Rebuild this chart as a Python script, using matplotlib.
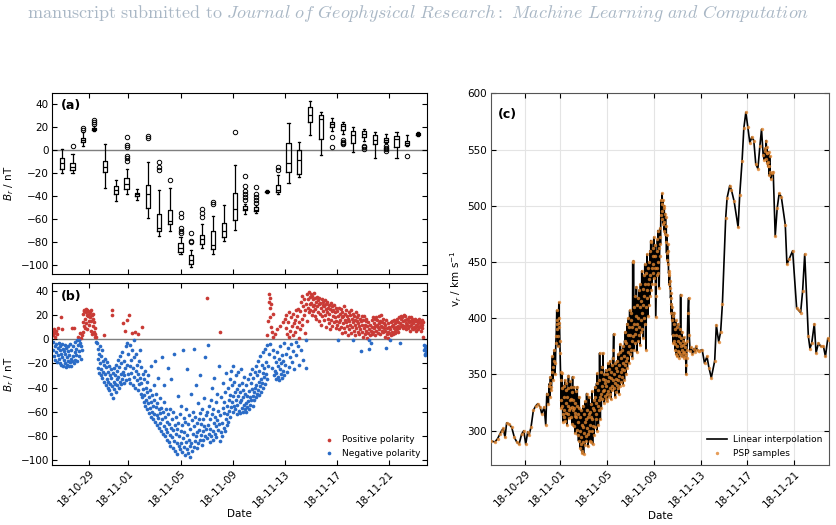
import numpy as np
import matplotlib
matplotlib.use("Agg")
import matplotlib.pyplot as plt
import matplotlib.dates as mdates
from datetime import datetime

# ---------------- data (times are days after 2018-10-26 00:00) ----------------
start = datetime(2018, 10, 26)

# (a) box statistics of B_r per bin
box_day = [0.88, 1.71, 2.54, 3.37, 4.20, 5.03, 5.86, 6.69, 7.51, 8.34, 9.17, 10.00,
           10.83, 11.66, 12.49, 13.32, 14.15, 14.98, 15.80, 16.63, 17.46, 18.29, 19.12,
           19.95, 20.78, 21.61, 22.44, 23.27, 24.09, 24.92, 25.75, 26.58, 27.41, 28.24]
box_q1 = [-16.4, -17.3, 7.0, 18.0, -19.3, -37.8, -34.0, -39.5, -50.7, -70.0, -64.1, -89.0,
          -99.3, -81.7, -86.1, -75.9, -60.6, -52.4, -52.5, -36.3, -36.3, -18.7, -21.1,
          24.6, 10.0, 20.2, 17.3, 6.7, 11.4, 5.3, 7.6, 3.2, 4.7, 13.4]
box_med = [-10.8, -14.4, 9.1, 18.8, -14.6, -34.3, -29.6, -38.4, -38.4, -68.0, -61.8, -84.7,
           -95.2, -77.3, -82.3, -70.0, -51.0, -51.0, -51.6, -35.7, -34.3, -10.8, -8.5,
           31.0, 27.2, 22.6, 21.4, 12.9, 14.1, 9.1, 9.1, 9.7, 6.7, 14.1]
box_q3 = [-6.4, -11.4, 11.1, 19.5, -9.1, -31.3, -24.0, -37.2, -29.9, -55.4, -51.6, -81.1,
          -91.4, -73.5, -70.6, -63.3, -36.9, -48.9, -49.5, -35.3, -30.5, 6.7, 0.0,
          37.8, 31.0, 24.3, 22.8, 16.4, 16.4, 12.9, 10.5, 12.0, 8.5, 14.8]
box_lo = [-20.2, -19.9, 3.8, 17.0, -32.5, -43.9, -38.4, -43.0, -59.2, -74.4, -70.0, -90.5,
          -101.6, -85.2, -89.9, -79.4, -69.4, -55.9, -54.8, -36.8, -38.4, -28.4, -23.7,
          12.9, -4.4, 17.0, 14.0, -1.8, 8.0, -6.4, 6.2, -6.4, 3.8, 12.3]
box_hi = [0.9, -3.2, 15.8, 21.0, 5.3, -25.5, -16.7, -34.0, -10.0, -34.9, -32.5, -75.9,
          -87.0, -64.1, -56.8, -48.0, -12.9, -46.6, -47.5, -34.8, -21.7, 23.7, 7.0,
          43.0, 33.4, 28.1, 24.9, 19.9, 18.5, 15.5, 14.4, 15.5, 12.9, 15.5]
box_fliers = [[], [3.8], [17.9, 19.3], [23.3, 24.8, 26.5], [], [],
              [11.4, 4.7, 2.9, -4.7, -6.4, -9.1], [], [12.0, 10.5],
              [-10.3, -14.9, -17.3], [-26.0], [-54.8, -57.7, -67.7, -70.0, -72.0],
              [-71.8, -78.8, -80.3], [-51.0, -54.5, -58.3], [-45.1, -47.2], [], [15.8],
              [-22.3, -31.0, -35.7, -38.4, -40.7, -43.0], [-31.6, -37.8, -40.7, -43.6, -46.0],
              [], [-14.9, -17.3], [], [], [], [], [11.7, 2.6], [9.1, 7.6, 6.2, 5.3], [],
              [4.1, 2.6, 1.2], [], [3.8, 2.3, 0.9, -0.6], [], [-4.7], []]

# (b) B_r samples (day, nT)
br_oct26_28 = [
    (0.19, 6), (0.20, -9), (0.22, 3), (0.25, -2), (0.27, 8), (0.30, -14), (0.32, 5), (0.35, -6),
    (0.38, 2), (0.40, -17), (0.43, 7), (0.45, -4), (0.48, -11), (0.50, 4), (0.53, -19), (0.56, -7),
    (0.60, -13), (0.62, 9), (0.65, -3), (0.68, -16), (0.72, -9), (0.75, -20), (0.78, -6), (0.80, 18),
    (0.82, -12), (0.85, -21), (0.88, -4), (0.90, 8), (0.93, -15), (0.96, -8), (1.00, -22), (1.03, -10),
    (1.06, -17), (1.10, -5), (1.13, -20), (1.16, -12), (1.20, -23), (1.23, -7), (1.27, -15), (1.30, -21),
    (1.33, -10), (1.37, -18), (1.40, -6), (1.44, -22), (1.47, -13), (1.50, -19), (1.53, -4), (1.57, -16),
    (1.60, -22), (1.63, -9), (1.67, 9), (1.70, -18), (1.73, -6), (1.77, -14), (1.80, -20), (1.83, 9),
    (1.87, -11), (1.90, -2), (1.93, -17), (1.97, -8), (2.00, -13), (2.03, -1), (2.07, -18), (2.10, 2),
    (2.13, -5), (2.17, -14), (2.20, -1), (2.23, -10), (2.27, -3), (2.30, 5), (2.33, -16), (2.37, -6),
    (2.40, 1), (2.43, -9),
    (2.45, 3), (2.48, 14), (2.50, 21), (2.53, 6), (2.56, 23), (2.59, 11), (2.62, 24), (2.65, 17),
    (2.68, 9), (2.71, 22), (2.74, 25), (2.77, 13), (2.80, 20), (2.83, 24), (2.86, 8), (2.89, 19),
    (2.92, 23), (2.95, 15), (2.98, 21),
]
br_oct29_nov01 = [
    (3.01, 12), (3.04, 22), (3.07, 18), (3.10, 7), (3.13, 24), (3.16, 15), (3.19, 20), (3.22, 4),
    (3.25, 17), (3.28, 11), (3.31, 21), (3.34, 6), (3.37, 14), (3.40, 2), (3.44, 9), (3.47, 4),
    (3.50, -2), (3.53, 2),
    (3.60, -3), (3.63, -16), (3.66, -8), (3.70, -24), (3.73, -12), (3.76, -28), (3.80, -6), (3.83, -20),
    (3.86, -30), (3.90, -14), (3.93, -25), (3.96, -9), (4.00, -32), (4.03, -18), (4.06, -27), (4.10, -21),
    (4.13, 3), (4.16, -35), (4.20, -16), (4.23, -29), (4.26, -38), (4.30, -23), (4.33, -33), (4.36, -19),
    (4.40, -40), (4.43, -27), (4.46, -35), (4.50, -22), (4.53, -42), (4.56, -30), (4.60, -37), (4.63, -25),
    (4.66, -45), (4.70, -32), (4.72, 24), (4.75, -39), (4.77, 20), (4.80, -28), (4.83, -49), (4.86, -35),
    (4.90, -24), (4.93, -41), (4.96, -30), (5.00, -37), (5.03, -21), (5.06, -44), (5.10, -33), (5.13, -26),
    (5.16, -38), (5.20, -17), (5.23, -31), (5.26, -40), (5.30, -23), (5.33, -35), (5.36, -14), (5.40, -29),
    (5.43, -37), (5.46, -20), (5.50, -33), (5.53, -11), (5.56, -27), (5.60, 13), (5.63, -36), (5.66, -18),
    (5.70, -30), (5.73, 7), (5.76, -24), (5.80, -6), (5.83, -34), (5.86, 16), (5.90, -21), (5.93, -3),
    (5.96, -29),
]
br_nov01_04 = [
    (6.00, -12), (6.03, -33), (6.06, 20), (6.10, -22), (6.13, -5), (6.16, -36), (6.20, -17), (6.23, -28),
    (6.26, -9), (6.30, 5), (6.33, -38), (6.36, -24), (6.40, -1), (6.43, -31), (6.46, -15), (6.50, 6),
    (6.53, -40), (6.56, -26), (6.60, -12), (6.63, -34), (6.66, -21), (6.70, 4), (6.73, -42), (6.76, -29),
    (6.80, -18), (6.83, -37), (6.86, -9), (6.90, -32), (6.93, -45), (6.96, -23), (7.00, -36), (7.03, -48),
    (7.06, 10), (7.10, -29), (7.13, -41), (7.16, -52), (7.20, -33), (7.23, -46), (7.26, -26), (7.30, -55),
    (7.33, -40), (7.36, -50), (7.40, -35), (7.43, -58), (7.46, -44), (7.50, -53), (7.53, -30), (7.56, -61),
    (7.60, -48), (7.63, -57), (7.66, -42), (7.70, -64), (7.73, -22), (7.76, -52), (7.80, -60), (7.83, -46),
    (7.86, -66), (7.90, -55), (7.93, -38), (7.96, -62), (8.00, -50), (8.03, -18), (8.06, -68), (8.10, -56),
    (8.13, -45), (8.16, -63), (8.20, -71), (8.23, -53), (8.26, -65), (8.30, -32), (8.33, -58), (8.36, -73),
    (8.40, -61), (8.43, -49), (8.46, -69), (8.50, -76), (8.53, -57), (8.56, -15), (8.60, -66), (8.63, -78),
    (8.66, -60), (8.70, -72), (8.73, -52), (8.76, -38), (8.80, -80), (8.83, -64), (8.86, -74), (8.90, -58),
    (8.93, -83), (8.96, -68),
]
br_nov04_07 = [
    (9.00, -77), (9.03, -24), (9.06, -62), (9.10, -85), (9.13, -70), (9.16, -79), (9.20, -58), (9.23, -88),
    (9.26, -73), (9.30, -33), (9.33, -81), (9.36, -66), (9.40, -90), (9.43, -75), (9.46, -60), (9.50, -84),
    (9.53, -12), (9.56, -71), (9.60, -92), (9.63, -78), (9.66, -64), (9.70, -86), (9.73, -74), (9.76, -95),
    (9.80, -47), (9.83, -69), (9.86, -88), (9.90, -80), (9.93, -62), (9.96, -91), (10.00, -76),
    (10.03, -86), (10.06, -55), (10.10, -93), (10.13, -71), (10.16, -9), (10.20, -82), (10.23, -65),
    (10.26, -89), (10.30, -77), (10.33, -96), (10.36, -68), (10.40, -85), (10.43, -58), (10.46, -91),
    (10.50, -25), (10.53, -79), (10.56, -70), (10.60, -94), (10.63, -83), (10.66, -63), (10.70, -88),
    (10.73, -97), (10.76, -74), (10.80, -45), (10.83, -86), (10.86, -67), (10.90, -92), (10.93, -78),
    (10.96, -60), (11.00, -89), (11.03, -8), (11.06, -72), (11.10, -84), (11.13, -64), (11.16, -38),
    (11.20, -80), (11.23, -90), (11.26, -69), (11.30, -77), (11.33, -53), (11.36, -86), (11.40, -66),
    (11.43, -75), (11.46, -83), (11.50, -30), (11.53, -61), (11.56, -79), (11.60, -70), (11.63, -87),
    (11.66, -58), (11.70, -76), (11.73, -83), (11.76, -66), (11.80, -72), (11.83, -49), (11.86, -15),
    (11.90, -80), (11.93, -63), (11.96, -74),
]
br_nov07_10 = [
    (12.00, 34), (12.03, -82), (12.06, -60), (12.10, -71), (12.13, -5), (12.16, -78), (12.20, -55),
    (12.23, -85), (12.26, -66), (12.30, -74), (12.33, -50), (12.36, -80), (12.40, -62), (12.43, -40),
    (12.46, -76), (12.50, -58), (12.53, -83), (12.56, -69), (12.60, -32), (12.63, -64), (12.66, -78),
    (12.70, -52), (12.73, -72), (12.76, -81), (12.80, -45), (12.83, -67), (12.86, -75), (12.90, -59),
    (12.93, -22), (12.96, -70), (13.00, -84), (13.03, 6), (13.06, -63), (13.10, -77), (13.13, -48),
    (13.16, -69), (13.20, -80), (13.23, -57), (13.26, -36), (13.30, -73), (13.33, -61), (13.36, -52),
    (13.40, -76), (13.43, -44), (13.46, -66), (13.50, -28), (13.53, -71), (13.56, -55), (13.60, -62),
    (13.63, -40), (13.66, -68), (13.70, -50), (13.73, -59), (13.76, -33), (13.80, -64), (13.83, -46),
    (13.86, -56), (13.90, -26), (13.93, -52), (13.96, -38), (14.00, -60), (14.03, -22), (14.06, -47),
    (14.10, -55), (14.13, -35), (14.16, -44), (14.20, -58), (14.23, -30), (14.26, -50), (14.30, -62),
    (14.33, -41), (14.36, -54), (14.40, -27), (14.43, -47), (14.46, -59), (14.50, -38), (14.53, -52),
    (14.56, -44), (14.60, -61), (14.63, -25), (14.66, -50), (14.70, -57), (14.73, -36), (14.76, -48),
    (14.80, -60), (14.83, -42), (14.86, -54), (14.90, -31), (14.93, -58), (14.96, -45),
]
br_nov10_13 = [
    (15.00, -53), (15.03, -38), (15.06, -60), (15.10, -47), (15.13, -56), (15.16, -33), (15.20, -51),
    (15.23, -43), (15.26, -58), (15.30, -29), (15.33, -48), (15.36, -54), (15.40, -36), (15.43, -50),
    (15.46, -41), (15.50, -25), (15.53, -47), (15.56, -55), (15.60, -32), (15.63, -44), (15.66, -50),
    (15.70, -27), (15.73, -40), (15.76, -48), (15.80, -22), (15.83, -38), (15.86, -45), (15.90, -30),
    (15.93, -42), (15.96, -18), (16.00, -35), (16.03, -46), (16.06, -26), (16.10, -39), (16.13, -14),
    (16.16, -33), (16.20, -44), (16.23, -21), (16.26, -36), (16.30, -28), (16.33, -40), (16.36, -11),
    (16.40, -31), (16.43, -24), (16.46, -37), (16.50, -8), (16.53, -29), (16.56, -19), (16.60, -33),
    (16.63, -5), (16.66, 3), (16.70, -22), (16.73, 15), (16.76, 37), (16.78, 31), (16.80, -12),
    (16.83, 26), (16.86, 18), (16.88, 34), (16.90, -4), (16.93, 10), (16.96, 29), (17.00, 6),
    (17.03, -24), (17.06, 21), (17.10, -9), (17.13, 2), (17.16, -30), (17.20, -15), (17.23, -26),
    (17.26, 4), (17.30, -33), (17.33, -19), (17.36, -28), (17.40, -11), (17.43, 8), (17.46, -31),
    (17.50, -22), (17.53, -16), (17.56, -34), (17.60, -25), (17.63, -6), (17.66, 11), (17.70, -29),
    (17.73, -20), (17.76, -32), (17.80, -13), (17.83, 14), (17.86, -26), (17.90, -18), (17.93, -3),
    (17.96, -30),
]
br_nov13_17 = [
    (18.00, 17), (18.03, -21), (18.06, 9), (18.10, -12), (18.13, 20), (18.16, -27), (18.20, 4),
    (18.23, -7), (18.26, 14), (18.30, -23), (18.33, 2), (18.36, 22), (18.40, -15), (18.43, 7),
    (18.46, -4), (18.50, 18), (18.53, 11), (18.56, -19), (18.60, 3), (18.63, -10), (18.66, 21),
    (18.70, 13), (18.73, -25), (18.76, 6), (18.80, 16), (18.83, -2), (18.86, 24), (18.90, -13),
    (18.93, 10), (18.96, 19), (19.00, -6), (19.03, 25), (19.06, 1), (19.10, 14), (19.13, -21),
    (19.16, 23), (19.20, 8), (19.23, 31), (19.26, -9), (19.30, 17), (19.33, 36), (19.36, 12),
    (19.40, 27), (19.43, -17), (19.46, 20), (19.50, 33), (19.53, 5), (19.56, 24), (19.60, -1),
    (19.63, 29), (19.66, -24), (19.70, 15), (19.73, 37), (19.76, 26), (19.80, 33), (19.83, 22),
    (19.86, 39), (19.90, 29), (19.93, 35), (19.96, 24), (20.00, 37), (20.03, 30), (20.06, 20),
    (20.10, 36), (20.13, 27), (20.16, 33), (20.20, 23), (20.23, 38), (20.26, 28), (20.30, 19),
    (20.33, 34), (20.36, 25), (20.40, 31), (20.43, 17), (20.46, 35), (20.50, 27), (20.53, 22),
    (20.56, 32), (20.60, 15), (20.63, 29), (20.66, 34), (20.70, 21), (20.73, 30), (20.76, 12),
    (20.80, 26), (20.83, 33), (20.86, 19), (20.90, 28), (20.93, 23), (20.96, 31), (21.00, 16),
    (21.03, 27), (21.06, 32), (21.10, 20), (21.13, 25), (21.16, 10), (21.20, 29), (21.23, 22),
    (21.26, 31), (21.30, 17), (21.33, 26), (21.36, 13), (21.40, 28), (21.43, 21), (21.46, 8),
    (21.50, 25), (21.53, 30), (21.56, 16), (21.60, 23), (21.63, 11), (21.66, 27), (21.70, 19),
    (21.73, 24), (21.76, 14), (21.80, 28), (21.83, 18), (21.86, 22), (21.90, 9), (21.93, 26),
    (21.96, 15),
]
br_nov17_20 = [
    (22.00, 23), (22.03, 12), (22.06, 19), (22.10, -1), (22.13, 26), (22.16, 14), (22.20, 8),
    (22.23, 21), (22.26, 16), (22.30, 25), (22.33, 10), (22.36, 18), (22.40, 5), (22.43, 22),
    (22.46, 13), (22.50, 19), (22.53, 27), (22.56, 9), (22.60, 16), (22.63, 21), (22.66, 6),
    (22.70, 14), (22.73, 24), (22.76, 11), (22.80, 19), (22.83, 3), (22.86, 17), (22.90, 22),
    (22.93, 8), (22.96, 15), (23.00, 20), (23.03, 12), (23.06, 24), (23.10, 5), (23.13, 17),
    (23.16, 10), (23.20, -1), (23.23, 21), (23.26, 14), (23.30, 7), (23.33, 19), (23.36, 12),
    (23.40, 16), (23.43, 3), (23.46, 22), (23.50, 9), (23.53, 15), (23.56, 18), (23.60, 6),
    (23.63, 13), (23.66, 20), (23.70, 4), (23.73, 11), (23.76, 17), (23.80, 8), (23.83, -10),
    (23.86, 15), (23.90, 19), (23.93, 6), (23.96, 12), (24.00, 2), (24.03, 16), (24.06, 9),
    (24.10, 19), (24.13, 4), (24.16, 12), (24.20, 15), (24.23, 7), (24.26, 17), (24.30, 1),
    (24.33, 11), (24.36, 5), (24.40, 14), (24.43, -1), (24.46, 8), (24.50, -8), (24.53, 3),
    (24.56, 12), (24.60, -3), (24.63, 7), (24.66, 16), (24.70, 4), (24.73, 10), (24.76, 18),
    (24.80, 6), (24.83, 13), (24.86, 9), (24.90, 17), (24.93, 3), (24.96, 11),
]
br_nov20_23 = [
    (25.00, 18), (25.03, 7), (25.06, 12), (25.10, 16), (25.13, 5), (25.16, 10), (25.20, 19),
    (25.23, 13), (25.26, 8), (25.30, 15), (25.33, 4), (25.36, 11), (25.40, 20), (25.43, 7),
    (25.46, 14), (25.50, 10), (25.53, 17), (25.56, 6), (25.60, 13), (25.63, 9), (25.66, 2),
    (25.70, 12), (25.73, 7), (25.76, 16), (25.80, -7), (25.83, 9), (25.86, 4), (25.90, 13),
    (25.93, 6), (25.96, 1), (26.00, 10), (26.03, 5), (26.06, -1), (26.10, 8), (26.13, 14),
    (26.16, 3), (26.20, 11), (26.23, 15), (26.26, 6), (26.30, 12), (26.33, 4), (26.36, 9),
    (26.40, 16), (26.43, 7), (26.46, 13), (26.50, 5), (26.53, 10), (26.56, 15), (26.60, 8),
    (26.63, 17), (26.66, 11), (26.70, 6), (26.73, 14), (26.76, 18), (26.80, 9), (26.83, 13),
    (26.86, -3), (26.90, 11), (26.93, 17), (26.96, 19), (27.00, 12), (27.03, 18), (27.06, 9),
    (27.10, 15), (27.13, 20), (27.16, 11), (27.20, 16), (27.23, 10), (27.26, 19), (27.30, 13),
    (27.33, 8), (27.36, 17), (27.40, 12), (27.43, 16), (27.46, 9), (27.50, 18), (27.53, 11),
    (27.56, 14), (27.60, 7), (27.63, 15), (27.66, 12), (27.70, 18), (27.73, 9), (27.76, 14),
    (27.80, 17), (27.83, 8), (27.86, 13), (27.90, 16), (27.93, 10), (27.96, 15), (28.00, 9),
    (28.03, 17), (28.06, 12), (28.10, 7), (28.13, 15), (28.16, 11), (28.20, 16), (28.23, 8),
    (28.26, 13), (28.30, 17), (28.33, 10), (28.36, 14), (28.40, 11), (28.43, 7), (28.46, 13),
    (28.50, 16), (28.53, 9), (28.56, 12), (28.60, 2), (28.63, 14), (28.66, -5), (28.70, -9),
    (28.73, -12), (28.76, -7), (28.80, -13), (28.83, -10), (28.86, -6), (28.90, -11),
]

# (c) radial speed samples (day, km/s)
vr_oct26_30 = [
    (0.07, 291), (0.43, 290), (0.66, 293), (0.86, 297), (1.00, 300), (1.14, 302), (1.29, 294),
    (1.43, 307), (1.63, 306), (1.86, 303), (2.09, 294), (2.29, 290), (2.49, 288), (2.71, 297),
    (2.89, 300), (3.06, 288), (3.23, 299), (3.34, 296), (3.51, 303), (3.71, 318), (3.91, 322),
    (4.09, 324), (4.29, 321), (4.43, 315), (4.63, 321), (4.77, 305), (4.86, 333),
]
vr_oct31 = [
    (5.00, 324), (5.05, 340), (5.09, 342), (5.13, 330), (5.17, 348), (5.21, 336), (5.26, 339),
    (5.30, 352), (5.34, 366), (5.38, 345), (5.43, 357), (5.47, 362), (5.51, 372), (5.55, 350),
    (5.60, 360), (5.63, 378), (5.66, 384), (5.69, 395), (5.71, 407), (5.74, 390), (5.77, 398),
    (5.80, 375), (5.83, 384), (5.86, 400), (5.89, 414), (5.91, 392), (5.94, 396), (5.97, 380),
]
vr_nov01_03 = [
    (6.00, 369), (6.03, 352), (6.06, 345), (6.09, 320), (6.11, 327), (6.14, 338), (6.17, 351),
    (6.20, 322), (6.23, 308), (6.26, 315), (6.29, 340), (6.32, 318), (6.34, 330), (6.37, 312),
    (6.40, 345), (6.43, 309), (6.46, 325), (6.49, 336), (6.51, 342), (6.54, 316), (6.57, 305),
    (6.60, 330), (6.63, 315), (6.66, 338), (6.69, 322), (6.71, 349), (6.74, 318), (6.77, 311),
    (6.80, 327), (6.83, 344), (6.86, 320), (6.89, 339), (6.92, 312), (6.94, 328), (6.97, 321),
    (7.00, 306), (7.03, 334), (7.06, 348), (7.09, 318), (7.11, 327), (7.14, 304), (7.17, 320),
    (7.20, 339), (7.23, 313), (7.26, 298), (7.29, 325), (7.31, 316), (7.34, 312), (7.37, 335),
    (7.40, 301), (7.43, 322), (7.46, 339), (7.49, 296), (7.51, 315), (7.54, 308), (7.57, 291),
    (7.60, 320), (7.63, 330), (7.66, 300), (7.69, 285), (7.71, 312), (7.74, 294), (7.77, 318),
    (7.80, 288), (7.83, 282), (7.86, 305), (7.89, 280), (7.91, 303), (7.94, 322), (7.97, 290),
    (8.00, 279), (8.03, 298), (8.06, 315), (8.09, 287), (8.11, 308), (8.14, 326), (8.17, 291),
    (8.20, 310), (8.23, 295), (8.26, 333), (8.29, 302), (8.31, 318), (8.34, 297), (8.37, 286),
    (8.40, 312), (8.43, 315), (8.46, 330), (8.49, 300), (8.51, 291), (8.54, 317), (8.57, 305),
    (8.60, 324), (8.63, 290), (8.66, 312), (8.69, 300), (8.71, 335), (8.74, 310), (8.77, 288),
    (8.80, 320), (8.83, 304), (8.86, 327), (8.89, 296), (8.91, 318), (8.94, 303), (8.97, 330),
]
vr_nov04_06 = [
    (9.00, 339), (9.03, 310), (9.06, 325), (9.09, 315), (9.11, 342), (9.14, 300), (9.17, 351),
    (9.20, 322), (9.23, 336), (9.26, 305), (9.29, 327), (9.31, 345), (9.34, 318), (9.37, 369),
    (9.40, 330), (9.43, 310), (9.46, 333), (9.49, 352), (9.51, 320), (9.54, 340), (9.57, 357),
    (9.60, 328), (9.63, 346), (9.66, 369), (9.69, 335), (9.71, 336), (9.74, 350), (9.77, 325),
    (9.80, 342), (9.83, 331), (9.86, 345), (9.89, 354), (9.91, 328), (9.94, 340), (9.97, 333),
    (10.00, 350), (10.03, 326), (10.06, 344), (10.09, 360), (10.11, 335), (10.14, 348),
    (10.17, 330), (10.20, 355), (10.23, 338), (10.26, 362), (10.29, 333), (10.31, 347),
    (10.34, 328), (10.37, 352), (10.40, 340), (10.43, 358), (10.46, 336), (10.49, 365),
    (10.51, 345), (10.54, 372), (10.57, 386), (10.60, 350), (10.63, 338), (10.66, 360),
    (10.69, 342), (10.71, 330), (10.74, 356), (10.77, 346), (10.80, 334), (10.83, 362),
    (10.86, 341), (10.89, 353), (10.91, 338), (10.94, 368), (10.97, 345), (11.00, 333),
    (11.03, 358), (11.06, 349), (11.09, 370), (11.11, 340), (11.14, 377), (11.17, 352),
    (11.20, 343), (11.23, 365), (11.26, 355), (11.29, 372), (11.31, 348), (11.34, 360),
    (11.37, 341), (11.40, 375), (11.43, 354), (11.46, 366), (11.49, 345), (11.51, 380),
    (11.54, 358), (11.57, 388), (11.60, 362), (11.63, 350), (11.66, 378), (11.69, 365),
    (11.71, 395), (11.74, 356), (11.77, 385), (11.80, 370), (11.83, 400), (11.86, 360),
    (11.89, 392), (11.91, 375), (11.94, 407), (11.97, 368),
]
vr_nov07_10 = [
    (12.00, 385), (12.03, 398), (12.06, 372), (12.09, 405), (12.11, 380), (12.14, 392),
    (12.17, 365), (12.20, 450), (12.23, 384), (12.26, 451), (12.29, 395), (12.31, 372),
    (12.34, 410), (12.37, 386), (12.40, 420), (12.43, 378), (12.46, 402), (12.49, 390),
    (12.51, 428), (12.54, 370), (12.57, 412), (12.60, 395), (12.63, 380), (12.66, 418),
    (12.69, 400), (12.71, 385), (12.74, 425), (12.77, 392), (12.80, 410), (12.83, 376),
    (12.86, 430), (12.89, 398), (12.91, 415), (12.94, 388), (12.97, 442), (13.00, 405),
    (13.03, 390), (13.06, 426), (13.09, 412), (13.11, 382), (13.14, 438), (13.17, 400),
    (13.20, 420), (13.23, 448), (13.26, 395), (13.29, 430), (13.31, 410), (13.34, 372),
    (13.37, 440), (13.40, 418), (13.43, 457), (13.46, 425), (13.49, 402), (13.51, 445),
    (13.54, 430), (13.57, 412), (13.60, 450), (13.63, 435), (13.66, 420), (13.69, 460),
    (13.71, 438), (13.74, 469), (13.77, 425), (13.80, 468), (13.83, 445), (13.86, 430),
    (13.89, 455), (13.91, 440), (13.94, 462), (13.97, 448), (14.00, 472), (14.03, 436),
    (14.06, 455), (14.09, 445), (14.11, 465), (14.14, 430), (14.17, 401), (14.20, 420),
    (14.23, 445), (14.26, 460), (14.29, 438), (14.31, 470), (14.34, 450), (14.37, 478),
    (14.40, 440), (14.43, 462), (14.46, 427), (14.49, 455), (14.51, 472), (14.54, 480),
    (14.57, 466), (14.60, 492), (14.63, 505), (14.66, 488), (14.69, 502), (14.71, 511),
    (14.74, 495), (14.77, 505), (14.80, 484), (14.83, 498), (14.86, 478), (14.89, 500),
    (14.91, 486), (14.94, 493), (14.97, 475), (15.00, 490), (15.03, 468), (15.06, 482),
    (15.09, 458), (15.11, 474), (15.14, 452), (15.17, 466), (15.20, 448), (15.23, 460),
    (15.26, 440), (15.29, 442), (15.31, 430), (15.34, 438), (15.37, 427), (15.40, 433),
    (15.43, 418), (15.46, 422),
]
vr_nov10_13 = [
    (15.49, 405), (15.51, 413), (15.54, 398), (15.57, 410), (15.60, 385), (15.63, 402),
    (15.66, 378), (15.69, 395), (15.71, 380), (15.74, 405), (15.77, 377), (15.80, 390),
    (15.83, 372), (15.86, 398), (15.89, 368), (15.91, 385), (15.94, 375), (15.97, 392),
    (16.00, 366), (16.03, 380), (16.06, 371), (16.09, 395), (16.11, 370), (16.14, 384),
    (16.17, 365), (16.20, 378), (16.23, 390), (16.26, 368), (16.29, 421), (16.31, 375),
    (16.34, 382), (16.37, 366), (16.40, 388), (16.43, 372), (16.46, 380), (16.49, 369),
    (16.51, 376), (16.54, 365), (16.57, 383), (16.60, 370), (16.63, 374), (16.66, 366),
    (16.69, 378), (16.71, 368), (16.74, 358), (16.77, 350), (16.80, 365), (16.83, 372),
    (16.86, 380), (16.91, 405), (16.97, 418), (17.03, 385), (17.09, 371), (17.20, 374),
    (17.30, 368), (17.43, 373), (17.51, 370), (17.60, 375), (17.71, 372), (17.83, 371),
]
vr_nov13_23 = [
    (17.90, 371), (18.13, 372), (18.33, 360), (18.54, 366), (18.71, 356), (18.91, 347),
    (19.20, 362), (19.34, 394), (19.54, 379), (19.71, 388), (19.86, 413), (20.14, 489),
    (20.26, 507), (20.49, 518), (20.63, 514), (20.86, 504), (21.20, 481), (21.34, 510),
    (21.54, 540), (21.69, 569), (21.86, 583), (22.03, 570), (22.20, 556), (22.37, 561),
    (22.54, 558), (22.71, 537), (22.89, 533), (23.06, 553), (23.20, 568), (23.34, 545),
    (23.43, 541), (23.47, 549), (23.51, 551), (23.55, 542), (23.60, 558), (23.63, 547),
    (23.66, 552), (23.69, 538), (23.71, 547), (23.74, 535), (23.77, 539), (23.80, 548),
    (23.83, 535), (23.86, 527), (23.89, 544), (23.94, 530), (24.00, 524), (24.09, 529),
    (24.20, 530), (24.37, 473), (24.54, 498), (24.71, 511), (24.89, 508), (25.23, 483),
    (25.37, 448), (25.57, 453), (25.86, 460), (26.20, 409), (26.37, 407), (26.54, 405),
    (26.71, 424), (26.89, 457), (27.20, 384), (27.34, 373), (27.49, 378), (27.71, 395),
    (27.86, 369), (28.06, 378), (28.26, 375), (28.49, 375), (28.66, 366), (28.86, 382),
    (28.97, 381),
]

# ---------------- assemble ----------------
t0 = mdates.date2num(start)

br = np.array(br_oct26_28 + br_oct29_nov01 + br_nov01_04 + br_nov04_07 + br_nov07_10
              + br_nov10_13 + br_nov13_17 + br_nov17_20 + br_nov20_23, dtype=float)
br_t = t0 + br[:, 0]
br_v = br[:, 1]

vr = np.array(vr_oct26_30 + vr_oct31 + vr_nov01_03 + vr_nov04_06 + vr_nov07_10
              + vr_nov10_13 + vr_nov13_23, dtype=float)
vr_t = t0 + vr[:, 0]
vr_v = vr[:, 1]

red = '#c93a35'
blue = '#2a6bc6'
orange = '#e0852f'
tick_days = [1, 5, 9, 13, 17, 21, 25, 29]

fig = plt.figure(figsize=(8.37, 5.25), dpi=100)

fig.text(0.5, 0.975,
         r'$\mathrm{manuscript\ submitted\ to\ }'
         r'\mathit{Journal\ of\ Geophysical\ Research{:}\ Machine\ Learning\ and\ Computation}$',
         ha='center', va='center', fontsize=13, color='#a9b7c5', math_fontfamily='cm')

ax_a = fig.add_axes([0.0625, 0.4775, 0.448, 0.3448])
ax_b = fig.add_axes([0.0625, 0.1143, 0.448, 0.3461])
ax_c = fig.add_axes([0.5863, 0.1143, 0.4045, 0.7080])


def style_axis(ax, lw=0.8):
    ax.tick_params(direction='in', top=True, right=True, length=3.5, width=0.8,
                   labelsize=7.5, pad=2.5)
    ax.xaxis.set_major_locator(mdates.DayLocator(bymonthday=tick_days))
    ax.xaxis.set_major_formatter(mdates.DateFormatter('%y-%m-%d'))
    for sp in ax.spines.values():
        sp.set_linewidth(lw)


# (a) boxes
stats = []
for i in range(len(box_day)):
    stats.append(dict(med=box_med[i], q1=box_q1[i], q3=box_q3[i],
                      whislo=box_lo[i], whishi=box_hi[i], fliers=box_fliers[i]))
ax_a.axhline(0, color='#7f7f7f', lw=1.0, zorder=1)
ax_a.bxp(stats, positions=t0 + np.array(box_day), widths=0.32, capwidths=0.16,
         manage_ticks=False,
         boxprops=dict(color='black', lw=0.9),
         medianprops=dict(color='black', lw=0.9),
         whiskerprops=dict(color='black', lw=0.9),
         capprops=dict(color='black', lw=0.9),
         flierprops=dict(marker='o', mfc='none', mec='black', ms=3.2, mew=0.7))
style_axis(ax_a)
ax_a.set_xlim(t0 + 0.16, t0 + 28.94)
ax_a.set_ylim(-108, 49.6)
ax_a.set_yticks(np.arange(-100, 41, 20))
ax_a.tick_params(labelbottom=False)
ax_a.set_ylabel(r'$B_r$ / nT', fontsize=7.5)
ax_a.yaxis.set_label_coords(-0.098, 0.5)
ax_a.text(0.022, 0.93, '(a)', transform=ax_a.transAxes, fontsize=9, fontweight='bold',
          va='center', ha='left')

# (b) polarity scatter
pos = br_v > 0
ax_b.axhline(0, color='#7f7f7f', lw=1.0, zorder=1)
ax_b.scatter(br_t[pos], br_v[pos], s=7, color=red, linewidths=0, zorder=2,
             label='Positive polarity')
ax_b.scatter(br_t[~pos], br_v[~pos], s=7, color=blue, linewidths=0, zorder=2,
             label='Negative polarity')
style_axis(ax_b)
ax_b.set_xlim(t0 + 0.16, t0 + 28.94)
ax_b.set_ylim(-103.9, 46.1)
ax_b.set_yticks(np.arange(-100, 41, 20))
plt.setp(ax_b.get_xticklabels(), rotation=45, ha='right', rotation_mode='anchor')
ax_b.set_ylabel(r'$B_r$ / nT', fontsize=7.5)
ax_b.yaxis.set_label_coords(-0.098, 0.5)
ax_b.set_xlabel('Date', fontsize=7.5)
ax_b.xaxis.set_label_coords(0.5, -0.24)
ax_b.text(0.022, 0.926, '(b)', transform=ax_b.transAxes, fontsize=9, fontweight='bold',
          va='center', ha='left')
ax_b.legend(loc='lower right', frameon=False, fontsize=6.5, handletextpad=0.4,
            markerscale=1.0, borderaxespad=0.4, labelspacing=0.5)

# (c) speed
ax_c.grid(True, color='#e4e4e4', lw=0.8, zorder=0)
ax_c.plot(vr_t, vr_v, color='black', lw=1.2, zorder=2, label='Linear interpolation')
ax_c.scatter(vr_t, vr_v, s=6, color=orange, alpha=0.8, linewidths=0, zorder=3,
             label='PSP samples')
style_axis(ax_c)
for sp in ax_c.spines.values():
    sp.set_color('#555555')
ax_c.set_axisbelow(True)
ax_c.set_xlim(t0 + 0.07, t0 + 28.99)
ax_c.set_ylim(269.5, 600)
ax_c.set_yticks(np.arange(300, 601, 50))
plt.setp(ax_c.get_xticklabels(), rotation=45, ha='right', rotation_mode='anchor')
ax_c.set_ylabel(r'v$_r$ / km s$^{-1}$', fontsize=7.5)
ax_c.yaxis.set_label_coords(-0.079, 0.5)
ax_c.set_xlabel('Date', fontsize=7.5)
ax_c.xaxis.set_label_coords(0.5, -0.123)
ax_c.text(0.022, 0.944, '(c)', transform=ax_c.transAxes, fontsize=9, fontweight='bold',
          va='center', ha='left')
ax_c.legend(loc='lower right', frameon=False, fontsize=6.5, handlelength=2.2,
            handletextpad=0.6, borderaxespad=0.4, labelspacing=0.5)

fig.savefig('out.png', dpi=100)
